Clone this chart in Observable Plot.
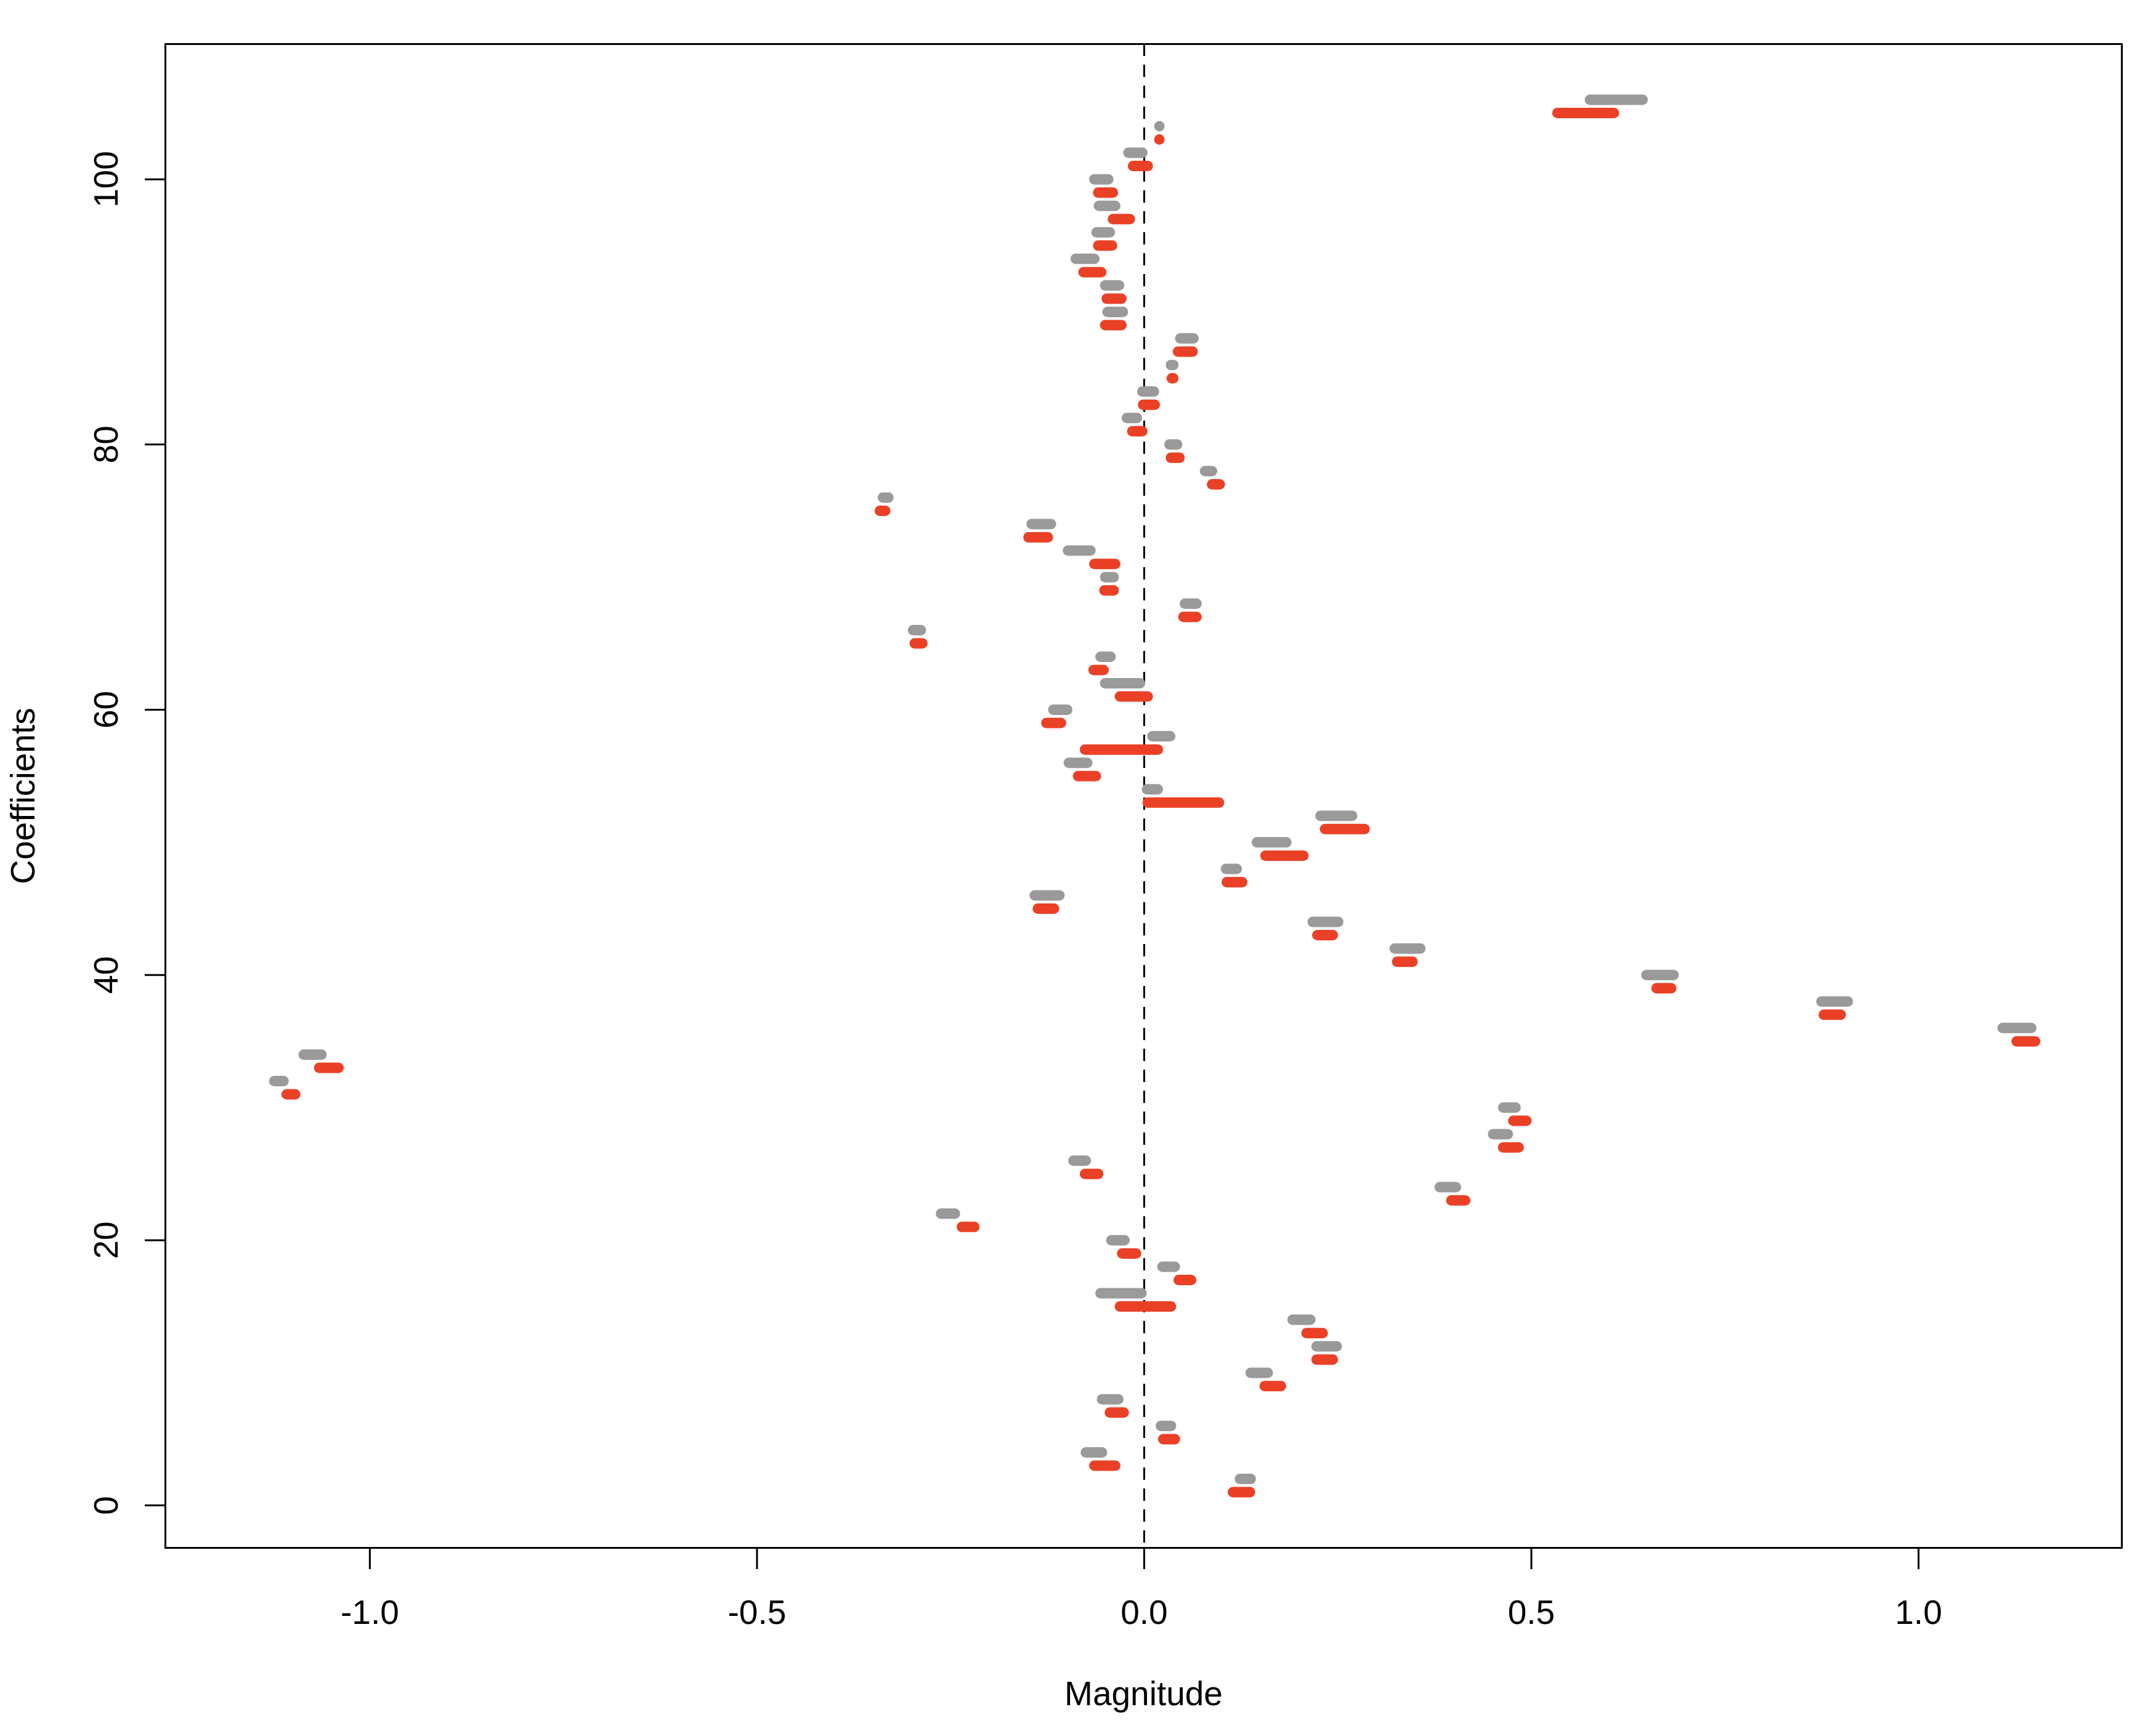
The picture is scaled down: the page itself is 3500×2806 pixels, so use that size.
<!DOCTYPE html>
<html><head><meta charset="utf-8">
<script src="https://cdn.jsdelivr.net/npm/d3@7"></script>
<script src="https://cdn.jsdelivr.net/npm/@observablehq/plot@0.6"></script>
<style>body{margin:0;background:#fff;}</style>
</head><body><div id="chart"></div>
<script>
// Odd coefficients (red series)
const redCoef = [1,3,5,7,9,11,13,15,17,19,21,23,25,27,29,31,33,35,37,39,41,43,45,47,49,51,53,55,57,59,61,63,65,67,69,71,73,75,77,79,81,83,85,87,89,91,93,95,97,99,101,103,105];
const redLow  = [0.115,-0.064,0.025,-0.044,0.156,0.223,0.210,-0.031,0.045,-0.028,-0.235,0.397,-0.076,0.464,0.477,-1.107,-1.065,1.127,0.878,0.662,0.327,0.224,-0.137,0.107,0.157,0.234,0.005,-0.085,-0.076,-0.126,-0.031,-0.065,-0.296,0.051,-0.051,-0.064,-0.149,-0.341,0.088,0.035,-0.015,-0.001,0.036,0.044,-0.050,-0.048,-0.078,-0.059,-0.040,-0.059,-0.014,0.020,0.534];
const redHigh = [0.137,-0.037,0.040,-0.026,0.177,0.244,0.231,0.035,0.061,-0.010,-0.219,0.415,-0.059,0.484,0.494,-1.096,-1.040,1.151,0.900,0.681,0.347,0.244,-0.116,0.127,0.206,0.285,0.097,-0.062,0.018,-0.107,0.005,-0.052,-0.286,0.068,-0.039,-0.037,-0.124,-0.334,0.098,0.046,-0.002,0.014,0.038,0.063,-0.029,-0.029,-0.055,-0.041,-0.018,-0.040,0.005,0.020,0.607];

// Even coefficients (gray series)
const grayCoef = [2,4,6,8,10,12,14,16,18,20,22,24,26,28,30,32,34,36,38,40,42,44,46,48,50,52,54,56,58,60,62,64,66,68,70,72,74,76,78,80,82,84,86,88,90,92,94,96,98,100,102,104,106];
const grayLow  = [0.124,-0.075,0.022,-0.054,0.138,0.223,0.192,-0.056,0.024,-0.042,-0.262,0.382,-0.091,0.451,0.464,-1.123,-1.085,1.109,0.875,0.649,0.324,0.218,-0.141,0.106,0.146,0.228,0.004,-0.097,0.011,-0.117,-0.050,-0.056,-0.298,0.053,-0.050,-0.098,-0.145,-0.337,0.079,0.033,-0.022,-0.002,0.035,0.047,-0.047,-0.050,-0.088,-0.061,-0.058,-0.064,-0.020,0.020,0.576];
const grayHigh = [0.138,-0.054,0.035,-0.033,0.160,0.249,0.215,-0.003,0.040,-0.025,-0.244,0.403,-0.075,0.470,0.480,-1.111,-1.062,1.146,0.909,0.684,0.357,0.251,-0.109,0.120,0.184,0.269,0.018,-0.073,0.034,-0.099,-0.005,-0.043,-0.288,0.068,-0.039,-0.069,-0.120,-0.330,0.088,0.043,-0.009,0.013,0.038,0.064,-0.027,-0.032,-0.064,-0.044,-0.037,-0.046,-0.002,0.020,0.644];

const xTicks = [-1.0,-0.5,0.0,0.5,1.0];
const yTicks = [0,20,40,60,80,100];
const xLabel = "Magnitude";
const yLabel = "Coefficients";

const redData = redCoef.map((c, i) => ({coef: c, low: redLow[i], high: redHigh[i]}));
const grayData = grayCoef.map((c, i) => ({coef: c, low: grayLow[i], high: grayHigh[i]}));

const font = "'Liberation Sans', Arial, Helvetica, sans-serif";

const chart = Plot.plot({
  width: 3500,
  height: 2806,
  marginLeft: 268,
  marginRight: 56,
  marginTop: 71,
  marginBottom: 293,
  style: {fontFamily: font, fontSize: "55px", background: "#fff", color: "#000"},
  x: {domain: [-1.264, 1.2625]},
  y: {domain: [-3.2, 110.2]},
  marks: [
    Plot.ruleX([0], {stroke: "#000", strokeWidth: 3, strokeDasharray: "20,14"}),
    Plot.ruleY(grayData, {y: "coef", x1: "low", x2: "high", stroke: "#9a9a9a", strokeWidth: 17, strokeLinecap: "round"}),
    Plot.ruleY(redData, {y: "coef", x1: "low", x2: "high", stroke: "#ea4126", strokeWidth: 17, strokeLinecap: "round"}),
    Plot.frame({stroke: "#000", strokeWidth: 3}),
    Plot.axisX({ticks: xTicks, tickFormat: d => d.toFixed(1), tickSize: 35, tickPadding: 49, strokeWidth: 3, fontSize: 55, label: null}),
    Plot.axisY({ticks: yTicks, tickFormat: d => String(d), tickSize: 33, tickPadding: 45, tickRotate: -90, strokeWidth: 3, fontSize: 55, label: null}),
    Plot.text([xLabel], {text: d => d, frameAnchor: "bottom", dy: 255, textAnchor: "middle", fontSize: 55}),
    Plot.text([yLabel], {text: d => d, frameAnchor: "left", dx: -230, rotate: -90, textAnchor: "middle", fontSize: 55})
  ]
});
document.getElementById("chart").appendChild(chart);
</script>
</body></html>
